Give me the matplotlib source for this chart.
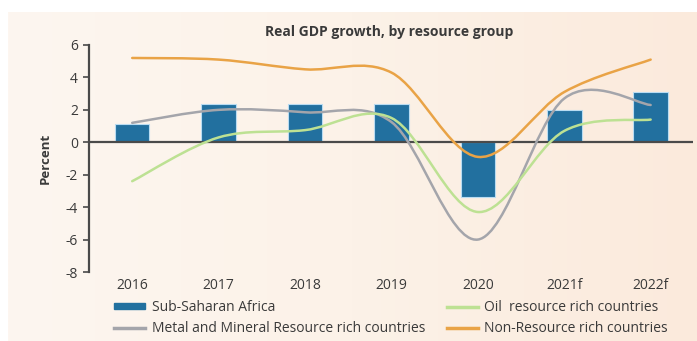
import numpy as np
import matplotlib.pyplot as plt
from matplotlib.path import Path
from matplotlib.patches import PathPatch, Rectangle
from matplotlib.lines import Line2D
from matplotlib.colors import LinearSegmentedColormap

# data
years = ["2016", "2017", "2018", "2019", "2020", "2021f", "2022f"]
ssa = [1.1, 2.35, 2.35, 2.35, -3.4, 2.0, 3.1]
metal = [1.2, 2.0, 1.85, 1.25, -6.0, 2.7, 2.3]
oil = [-2.4, 0.3, 0.75, 1.5, -4.3, 0.7, 1.4]
non_res = [5.2, 5.1, 4.5, 4.3, -0.9, 3.1, 5.1]

c_bar = "#22709f"
c_metal = "#a4a5ab"
c_oil = "#bde193"
c_nonres = "#e9a346"
c_text = "#3a3a3a"

plt.rcParams['font.family'] = ['Open Sans', 'DejaVu Sans']
plt.rcParams['axes.unicode_minus'] = False


def smooth_path(xs, ys):
    # Excel-like smoothed line: catmull-rom -> cubic bezier segments
    pts = np.column_stack([xs, ys]).astype(float)
    ext = np.vstack([pts[0], pts, pts[-1]])
    verts = [pts[0]]
    codes = [Path.MOVETO]
    for i in range(len(pts) - 1):
        p0, p1, p2, p3 = ext[i], ext[i + 1], ext[i + 2], ext[i + 3]
        verts += [p1 + (p2 - p0) / 6, p2 - (p3 - p1) / 6, p2]
        codes += [Path.CURVE4] * 3
    return Path(verts, codes)


fig = plt.figure(figsize=(6.97, 3.41), dpi=100)
fig.patch.set_facecolor("white")

# peach panel with a soft left-to-right gradient
bg = fig.add_axes([8 / 697, 0, 1 - 8 / 697, 1 - 12 / 341], zorder=-5)
grad = np.linspace(0, 1, 256)[None, :]
cmap = LinearSegmentedColormap.from_list("bg", ["#fdf6f0", "#fcf2e8", "#fbeadc"])
bg.imshow(grad, aspect="auto", cmap=cmap, extent=[0, 1, 0, 1])
bg.axis("off")

ax = fig.add_axes([89 / 697, 1 - 272 / 341, 604 / 697, 227 / 341])
ax.patch.set_alpha(0)
x = np.arange(len(years))

ax.bar(x, ssa, width=0.4, color=c_bar, edgecolor="#b9dcf2", linewidth=0.8, zorder=2)
ax.axhline(0, color="#4a4a4a", lw=1.6, zorder=3)

for vals, col in [(metal, c_metal), (oil, c_oil), (non_res, c_nonres)]:
    ax.add_patch(PathPatch(smooth_path(x, vals), facecolor="none", edgecolor=col,
                           lw=1.8, capstyle="round", zorder=4))

ax.set_xlim(-0.5, 6.49)
ax.set_ylim(-8, 6)
ax.set_yticks(range(-8, 7, 2))
ax.set_xticks(x)
ax.set_xticklabels(years)
for s in ["top", "right", "bottom"]:
    ax.spines[s].set_visible(False)
ax.spines["left"].set_color("#4a4a4a")
ax.spines["left"].set_linewidth(1.6)
ax.tick_params(axis="y", length=4, width=1.2, color="#4a4a4a", labelsize=10,
               labelcolor=c_text, pad=4)
ax.tick_params(axis="x", length=0, labelsize=10, labelcolor=c_text, pad=4)

ax.set_ylabel("Percent", fontsize=9.5, fontweight="bold", color=c_text, labelpad=10)
fig.text(389 / 697, 1 - 32 / 341, "Real GDP growth, by resource group", ha="center",
         va="center", fontsize=10, fontweight="bold", color=c_text)

labels = ["Sub-Saharan Africa", "Metal and Mineral Resource rich countries",
          "Oil  resource rich countries", "Non-Resource rich countries"]
handles = [
    Rectangle((0, 0), 1, 1, color=c_bar),
    Line2D([], [], color=c_metal, lw=2.5),
    Line2D([], [], color=c_oil, lw=2.5),
    Line2D([], [], color=c_nonres, lw=2.5),
]
leg_kw = dict(loc="center left", frameon=False, fontsize=10, handlelength=2.2,
              handleheight=0.3, handletextpad=0.5, labelspacing=0.4,
              borderpad=0, borderaxespad=0)
for cols, x0 in [((0, 1), 114), ((2, 3), 447)]:
    leg = fig.legend([handles[i] for i in cols], [labels[i] for i in cols],
                     bbox_to_anchor=(x0 / 697, 1 - 318 / 341), **leg_kw)
    for t in leg.get_texts():
        t.set_color(c_text)

fig.savefig("out.png", dpi=100)
